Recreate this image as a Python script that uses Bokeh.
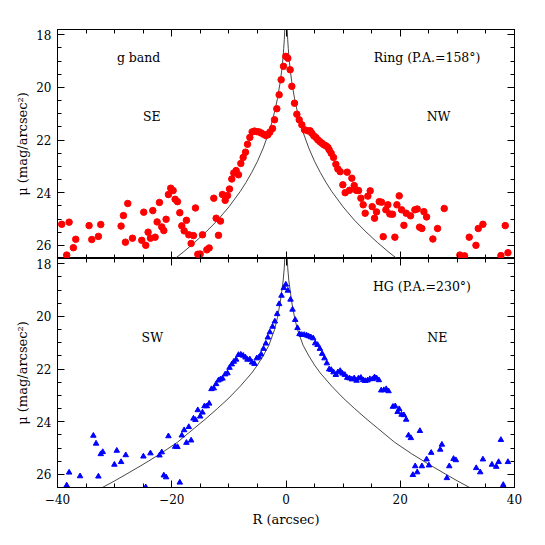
from bokeh.plotting import figure
from bokeh.layouts import column
from bokeh.models import Range1d, FixedTicker, LinearAxis, Label
from bokeh.embed import file_html
from bokeh.resources import INLINE

FONT = "DejaVu Serif"

# ---- Ring (P.A.=158 deg), g band : red circles ----
ring_r = [-39.26, -38.39, -37.97, -37.22, -36.81, -34.47, -34.00, -32.84, -32.43, -28.87,
          -28.46, -28.11, -27.70, -26.88, -25.25, -24.90, -24.55, -24.14, -23.73, -23.32,
          -22.91, -22.56, -22.15, -21.75, -21.39, -20.99, -20.58, -20.18, -19.76, -19.41,
          -19.00, -18.59, -18.24, -17.83, -17.43, -17.02, -16.61, -16.20, -15.85, -15.44,
          -15.03, -14.62, -13.86, -13.45, -12.64, -12.23, -11.82, -11.47, -11.12, -10.65,
          -10.24, -9.89, -9.49, -9.14, -8.73, -8.32, -7.91, -7.50, -7.09, -6.74,
          -6.33, -5.93, -5.52, -5.11, -4.70, -4.35, -3.94, -3.53, -3.18, -2.83,
          -2.36, -2.01, -1.61, -1.20, -0.85, -0.44, -0.03, 0.32, 0.73, 1.02,
          1.49, 1.90, 2.31, 2.77, 3.24, 3.82, 4.23, 4.52, 4.87, 5.22,
          5.57, 5.93, 6.28, 6.63, 6.98, 7.33, 7.56, 7.91, 8.32, 8.73,
          9.08, 9.49, 9.95, 10.36, 10.71, 11.12, 11.53, 11.94, 12.29, 12.70,
          13.11, 13.51, 13.86, 14.33, 14.74, 15.09, 15.50, 15.85, 16.32, 16.72,
          17.02, 17.48, 17.83, 18.18, 18.65, 19.06, 19.41, 19.82, 20.23, 20.64,
          21.04, 21.80, 22.56, 22.97, 23.38, 23.79, 24.14, 24.61, 25.71, 26.53,
          27.70, 30.44, 31.26, 32.08, 33.25, 33.66, 34.47, 37.62, 38.38, 38.85]
ring_mu = [25.20, 26.37, 25.12, 26.09, 25.77, 25.25, 25.78, 25.66, 25.21, 25.27,
           24.87, 25.88, 24.41, 25.73, 25.81, 24.74, 26.00, 25.50, 25.73, 24.68,
           25.69, 25.11, 24.37, 25.30, 25.44, 25.01, 24.07, 23.83, 23.92, 24.25,
           24.34, 24.76, 25.26, 25.45, 25.05, 25.60, 25.93, 25.63, 24.58, 26.34,
           26.33, 25.60, 26.17, 26.10, 24.21, 24.97, 25.62, 25.08, 24.07, 24.29,
           24.11, 23.86, 23.48, 23.25, 23.16, 23.32, 22.89, 22.66, 22.46, 22.16,
           21.90, 21.69, 21.66, 21.68, 21.69, 21.73, 21.78, 21.83, 21.80, 21.70,
           21.56, 21.23, 20.81, 20.28, 19.71, 19.20, 18.82, 18.89, 19.33, 19.96,
           20.60, 21.02, 21.23, 21.42, 21.61, 21.65, 21.65, 21.74, 21.84, 21.90,
           21.99, 22.06, 22.12, 22.18, 22.22, 22.28, 22.37, 22.50, 22.66, 22.92,
           23.10, 23.20, 23.70, 24.00, 23.22, 23.91, 23.45, 23.73, 23.91, 23.92,
           24.21, 24.46, 24.78, 24.13, 23.93, 24.53, 24.97, 24.73, 24.34, 24.36,
           25.67, 24.65, 24.46, 24.81, 24.82, 25.69, 24.46, 24.12, 24.65, 25.24,
           24.78, 24.88, 24.65, 24.62, 25.31, 25.36, 24.72, 24.92, 25.76, 25.36,
           24.60, 26.37, 26.40, 25.69, 26.00, 25.36, 25.20, 26.39, 25.25, 26.28]

# ---- HG (P.A.=230 deg) : blue triangles ----
hg_r = [-38.39, -37.97, -36.05, -33.72, -33.25, -32.84, -32.43, -32.08, -30.04, -29.62,
        -28.87, -28.05, -24.96, -24.55, -23.73, -22.15, -21.75, -21.39, -20.99, -20.58,
        -19.41, -19.00, -18.59, -18.24, -17.83, -17.43, -17.02, -16.61, -16.20, -15.85,
        -15.44, -15.03, -14.62, -14.27, -13.86, -13.45, -13.05, -12.64, -12.23, -11.82,
        -11.47, -11.12, -10.65, -10.24, -9.89, -9.49, -9.14, -8.73, -8.32, -7.91,
        -7.50, -7.09, -6.74, -6.33, -5.93, -5.52, -5.11, -4.70, -4.35, -3.94,
        -3.53, -3.18, -2.83, -2.36, -1.96, -1.55, -1.20, -0.79, -0.38, -0.03,
        0.32, 0.79, 1.14, 1.61, 2.01, 2.36, 2.77, 3.18, 3.59, 3.94,
        4.35, 4.76, 5.11, 5.52, 5.93, 6.33, 6.74, 7.15, 7.56, 7.91,
        8.32, 8.73, 9.08, 9.49, 9.89, 10.30, 10.71, 11.12, 11.53, 11.94,
        12.35, 12.70, 13.11, 13.51, 13.86, 14.27, 14.68, 15.15, 15.50, 15.85,
        16.26, 16.67, 17.13, 17.54, 17.95, 18.71, 19.12, 19.53, 19.82, 20.23,
        20.64, 21.04, 21.45, 21.86, 22.21, 22.62, 22.97, 23.44, 23.79, 24.61,
        25.02, 25.42, 27.00, 27.29, 28.17, 28.58, 29.33, 29.74, 33.30, 34.00,
        34.47, 36.05, 36.81, 37.22, 37.62, 38.03, 38.85]
hg_mu = [26.42, 25.93, 26.07, 24.53, 24.83, 26.08, 25.23, 25.15, 25.63, 25.10,
         25.53, 25.27, 25.32, 26.49, 25.20, 25.28, 25.16, 26.04, 26.11, 24.55,
         24.95, 24.96, 26.31, 24.52, 24.32, 24.80, 24.20, 24.71, 23.88, 23.93,
         23.56, 23.80, 23.65, 23.41, 23.41, 23.31, 22.76, 22.73, 22.57, 22.43,
         22.39, 22.36, 22.20, 22.16, 21.95, 21.82, 21.72, 21.64, 21.46, 21.45,
         21.49, 21.56, 21.64, 21.63, 21.75, 21.80, 21.59, 21.55, 21.44, 21.23,
         21.03, 20.80, 20.60, 20.39, 20.19, 19.91, 19.53, 19.21, 18.92, 18.79,
         19.02, 19.36, 19.74, 20.13, 20.44, 20.67, 20.70, 20.70, 20.72, 20.75,
         20.79, 20.83, 21.02, 21.08, 21.23, 21.42, 21.59, 21.78, 22.01, 22.03,
         22.12, 22.22, 22.12, 22.07, 22.17, 22.22, 22.33, 22.35, 22.39, 22.35,
         22.44, 22.35, 22.33, 22.42, 22.45, 22.43, 22.38, 22.38, 22.31, 22.35,
         22.42, 22.81, 22.80, 22.76, 22.84, 23.43, 23.41, 23.63, 23.52, 23.73,
         23.75, 23.92, 24.52, 24.62, 26.02, 25.69, 25.92, 24.35, 25.69, 25.43,
         25.66, 25.18, 25.06, 24.87, 26.14, 25.69, 25.41, 25.46, 25.76, 25.92,
         25.43, 25.63, 25.71, 25.53, 24.69, 26.40, 25.53]

# ---- model profiles (|R| side; the curves are symmetric) ----
model_ring_r = [0.2, 0.3, 0.4, 0.5, 0.6, 0.75, 1, 1.5, 2, 2.5, 3, 4, 5, 6, 7, 8, 10, 12, 14, 16, 18, 20]
model_ring_mu = [17.75, 18.19, 18.52, 18.80, 19.04, 19.35, 19.78, 20.43, 20.93, 21.35, 21.71, 22.31,
                 22.81, 23.23, 23.61, 23.95, 24.54, 25.05, 25.49, 25.89, 26.26, 26.60]
model_hg_r = [0.2, 0.3, 0.5, 0.75, 1, 1.5, 2, 3, 4, 5, 6, 8, 10, 12, 14, 16, 19, 22, 25, 28, 30, 33]
model_hg_mu = [17.70, 18.15, 18.65, 19.05, 19.45, 20.05, 20.50, 21.10, 21.50, 21.85, 22.15, 22.65,
               23.10, 23.50, 23.88, 24.24, 24.78, 25.22, 25.62, 26.00, 26.25, 26.60]

x_ticks = [-40, -20, 0, 20, 40]
x_minor = [-40, -35, -30, -25, -20, -15, -10, -5, 0, 5, 10, 15, 20, 25, 30, 35, 40]
x_label_text = {-40: "\u221240", -20: "\u221220"}
y_ticks = [18, 20, 22, 24, 26]
y_minor = [18 + 0.5 * i for i in range(18)]


def style_axis(ax, ticks, minor, labels):
    ax.ticker = FixedTicker(ticks=ticks, minor_ticks=minor)
    ax.major_tick_in = 7
    ax.major_tick_out = 0
    ax.minor_tick_in = 4
    ax.minor_tick_out = 0
    ax.axis_line_color = "black"
    ax.major_tick_line_color = "black"
    ax.minor_tick_line_color = "black"
    if labels:
        ax.major_label_text_font = FONT
        ax.major_label_text_font_size = "12px"
        ax.major_label_text_color = "black"
        ax.major_label_standoff = 6
        ax.axis_label_text_font = FONT
        ax.axis_label_text_font_size = "13px"
        ax.axis_label_text_font_style = "normal"
        ax.axis_label_text_color = "black"
    else:
        ax.major_label_text_font_size = "0px"
        ax.major_label_text_color = None
        ax.major_label_standoff = 0


def panel(top, r, mu, marker, color, size, mr, mmu, texts):
    p = figure(frame_width=457, frame_height=229,
               x_range=Range1d(-40, 40), y_range=Range1d(26.5, 17.8),
               x_axis_location=None, y_axis_location=None,
               output_backend="svg", toolbar_location=None,
               min_border_left=57, min_border_right=10,
               min_border_top=29 if top else 0, min_border_bottom=0 if top else 40)
    p.grid.visible = False
    p.outline_line_color = "black"
    p.background_fill_color = "white"
    p.border_fill_color = "white"

    left = LinearAxis(axis_label="\u03bc (mag/arcsec\u00b2)", axis_label_standoff=3)
    style_axis(left, y_ticks, y_minor, True)
    p.add_layout(left, "left")
    right = LinearAxis()
    style_axis(right, y_ticks, y_minor, False)
    p.add_layout(right, "right")
    above = LinearAxis()
    style_axis(above, x_ticks, x_minor, False)
    p.add_layout(above, "above")
    if top:
        below = LinearAxis()
        style_axis(below, x_ticks, x_minor, False)
    else:
        below = LinearAxis(axis_label="R (arcsec)", axis_label_standoff=5)
        style_axis(below, x_ticks, x_minor, True)
        below.major_label_overrides = x_label_text
    p.add_layout(below, "below")

    p.line(mr, mmu, line_color="#333333", line_width=0.9)
    p.line([-v for v in mr], mmu, line_color="#333333", line_width=0.9)
    p.scatter(r, mu, marker=marker, size=size, fill_color=color, line_color=color)

    for (tx, ty, t) in texts:
        p.add_layout(Label(x=tx, y=ty, text=t, text_align="center", text_baseline="middle",
                           text_font=FONT, text_font_size="12.5px", text_color="black"))
    return p


p1 = panel(True, ring_r, ring_mu, "circle", "red", 6.5, model_ring_r, model_ring_mu,
           [(-25.8, 18.87, "g band"), (24.7, 18.87, "Ring (P.A.=158\u00b0)"),
            (-23.5, 21.12, "SE"), (26.7, 21.12, "NW")])
p2 = panel(False, hg_r, hg_mu, "triangle", "blue", 5.5, model_hg_r, model_hg_mu,
           [(23.8, 18.85, "HG (P.A.=230\u00b0)"), (-23.4, 20.82, "SW"), (26.5, 20.82, "NE")])

p = column(p1, p2, spacing=0)
open("out.html", "w").write(file_html(p, INLINE))
